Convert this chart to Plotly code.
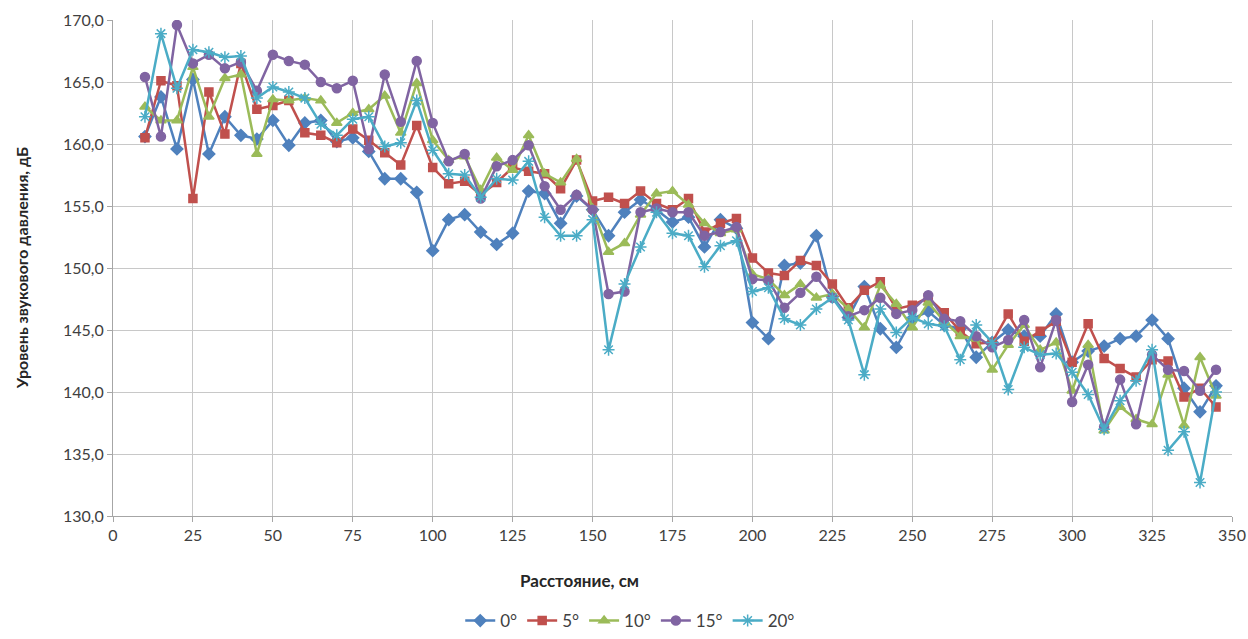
import plotly.graph_objects as go

# Distance from the source, cm
distance = list(range(10, 350, 5))

# Sound pressure level, dB, for each angle
spl_0 = [160.6, 163.8, 159.6, 165.2, 159.2, 162.2, 160.7, 160.4, 161.9, 159.9,
         161.7, 161.9, 160.2, 160.5, 159.4, 157.2, 157.2, 156.1, 151.4, 153.9,
         154.3, 152.9, 151.9, 152.8, 156.2, 156.0, 153.6, 155.8, 154.7, 152.6,
         154.5, 155.5, 154.7, 153.7, 154.1, 151.7, 153.9, 153.2, 145.6, 144.3,
         150.2, 150.4, 152.6, 147.7, 146.0, 148.5, 145.1, 143.6, 145.9, 146.5,
         145.4, 145.1, 142.8, 144.0, 145.0, 144.5, 144.5, 146.3, 142.4, 143.3,
         143.7, 144.3, 144.5, 145.8, 144.3, 140.3, 138.4, 140.5]
spl_5 = [160.5, 165.1, 164.7, 155.6, 164.2, 160.8, 166.5, 162.8, 163.1, 163.5,
         160.9, 160.7, 160.1, 161.2, 160.3, 159.3, 158.3, 161.5, 158.1, 156.8,
         157.0, 155.9, 156.9, 158.1, 157.8, 157.6, 156.4, 158.7, 155.4, 155.7,
         155.2, 156.2, 155.2, 154.7, 155.6, 152.9, 153.6, 154.0, 150.8, 149.6,
         149.4, 150.6, 150.2, 148.7, 146.8, 148.2, 148.9, 146.7, 147.0, 147.6,
         146.4, 144.9, 143.9, 144.0, 146.3, 144.1, 144.9, 145.7, 142.4, 145.5,
         142.7, 141.9, 141.2, 142.6, 142.5, 139.6, 140.3, 138.8]
spl_10 = [163.0, 161.9, 161.9, 166.2, 162.2, 165.3, 165.6, 159.2, 163.6, 163.5,
          163.7, 163.5, 161.7, 162.5, 162.8, 163.9, 160.9, 164.9, 160.3, 158.7,
          159.0, 156.3, 158.9, 157.9, 160.7, 157.6, 156.9, 158.8, 154.8, 151.3,
          152.0, 154.3, 156.0, 156.2, 155.1, 153.6, 152.8, 153.1, 149.5, 149.1,
          147.8, 148.7, 147.6, 147.9, 146.7, 145.2, 148.6, 147.1, 145.2, 147.2,
          145.7, 144.5, 144.3, 141.8, 143.8, 145.4, 143.4, 144.0, 140.1, 143.8,
          136.9, 138.8, 137.8, 137.4, 141.4, 137.3, 142.8, 139.7]
spl_15 = [165.4, 160.6, 169.6, 166.5, 167.2, 166.1, 166.6, 164.3, 167.2, 166.7,
          166.4, 165.0, 164.5, 165.1, 159.6, 165.6, 161.8, 166.7, 161.7, 158.6,
          159.2, 155.6, 158.2, 158.7, 159.9, 156.6, 154.7, 155.9, 154.7, 147.9,
          148.1, 154.5, 154.8, 154.5, 154.5, 152.6, 152.9, 153.3, 149.1, 149.0,
          146.8, 148.0, 149.3, 147.6, 146.1, 146.6, 147.6, 146.3, 146.6, 147.8,
          145.9, 145.7, 144.5, 143.6, 144.2, 145.8, 142.0, 145.8, 139.2, 142.2,
          137.2, 141.0, 137.4, 143.0, 141.8, 141.7, 140.1, 141.8]
spl_20 = [162.2, 168.9, 164.5, 167.6, 167.4, 167.0, 167.1, 163.7, 164.6, 164.2,
          163.7, 161.6, 160.7, 162.0, 162.2, 159.8, 160.1, 163.5, 159.5, 157.6,
          157.5, 155.7, 157.2, 157.1, 158.6, 154.1, 152.6, 152.6, 153.9, 143.4,
          148.7, 151.7, 154.5, 152.8, 152.6, 150.1, 151.8, 152.2, 148.1, 148.4,
          145.9, 145.4, 146.7, 147.6, 145.8, 141.4, 146.7, 144.8, 146.0, 145.5,
          145.3, 142.6, 145.4, 144.0, 140.2, 143.6, 143.0, 143.1, 141.6, 139.8,
          137.0, 139.3, 140.9, 143.4, 135.3, 136.8, 132.7, 140.0]

series_names = ["0°", "5°", "10°", "15°", "20°"]
series_values = [spl_0, spl_5, spl_10, spl_15, spl_20]
colors = ["#4F81BD", "#C0504D", "#9BBB59", "#8064A2", "#4BACC6"]
symbols = ["diamond", "square", "triangle-up", "circle", "asterisk-open"]
sizes = [9, 8, 9, 9, 10]

x_ticks = list(range(0, 351, 25))
y_ticks = list(range(130, 171, 5))

FONT = "Lato, 'Open Sans', sans-serif"

fig = go.Figure()
for name, vals, col, sym, sz in zip(series_names, series_values, colors, symbols, sizes):
    fig.add_trace(go.Scatter(
        x=distance, y=vals, name=name, mode="lines+markers",
        line=dict(color=col, width=2.5),
        marker=dict(symbol=sym, size=sz, color=col,
                    line=dict(color=col, width=1.5)),
    ))

fig.update_layout(
    width=1248, height=639,
    margin=dict(l=113, r=16, t=20, b=123, autoexpand=False),
    paper_bgcolor="white", plot_bgcolor="white",
    separators=", ",
    font=dict(family=FONT, size=15, color="#404040"),
    showlegend=True,
    legend=dict(orientation="h", x=0.505, xanchor="center", xref="container",
                y=0.0, yanchor="bottom", yref="container",
                font=dict(size=17, color="#404040"),
                itemwidth=30, tracegroupgap=0),
    annotations=[
        dict(text="<b>Расстояние, см</b>", xref="paper", yref="paper",
             x=0.417, y=-0.13, xanchor="center", yanchor="middle",
             showarrow=False, font=dict(size=17, color="#262626")),
        dict(text="<b>Уровень звукового давления, дБ</b>", xref="paper", yref="paper",
             x=-0.082, y=0.5, xanchor="center", yanchor="middle", textangle=-90,
             showarrow=False, font=dict(size=16, color="#262626")),
    ],
)

fig.update_xaxes(
    range=[0, 350], tickvals=x_ticks, ticktext=[str(v) for v in x_ticks],
    showgrid=True, gridcolor="#C8C8C8", gridwidth=1.2,
    showline=True, linecolor="#A6A6A6", linewidth=1.2, mirror=False,
    ticks="outside", ticklen=5, tickcolor="#A6A6A6", automargin=False,
    tickfont=dict(size=16, color="#404040"), zeroline=False,
)
fig.update_yaxes(
    range=[130, 170], tickvals=y_ticks, tickformat=".1f",
    showgrid=True, gridcolor="#C8C8C8", gridwidth=1.2,
    showline=True, linecolor="#A6A6A6", linewidth=1.2, automargin=False,
    ticks="outside", ticklen=5, tickcolor="#A6A6A6",
    tickfont=dict(size=16, color="#404040"), zeroline=False,
)

fig.write_html("out.html")
